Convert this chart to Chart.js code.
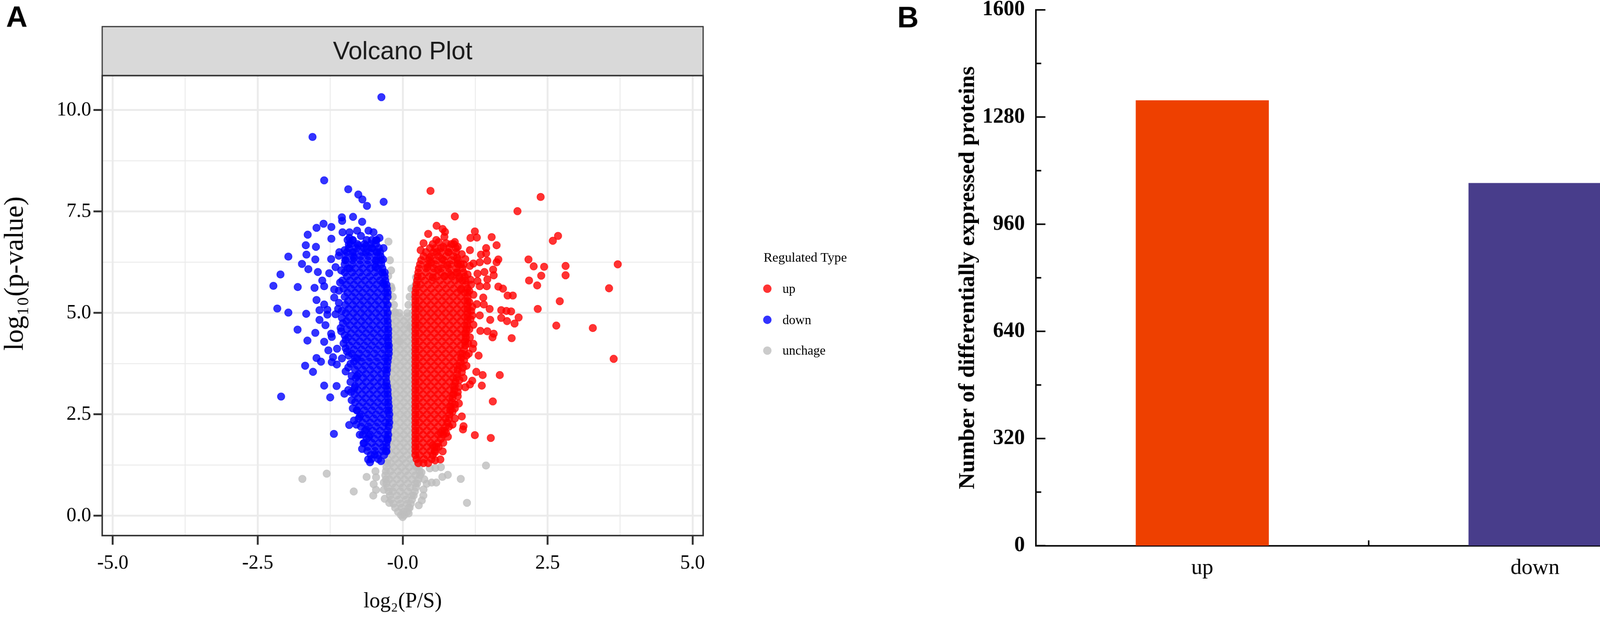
<!DOCTYPE html>
<html>
<head>
<meta charset="utf-8">
<script src="https://cdn.jsdelivr.net/npm/chart.js@4.4.1/dist/chart.umd.min.js"></script>
<style>
  html, body { margin: 0; padding: 0; background: #fff; overflow: hidden; }
  #page { position: absolute; left: 0; top: 0; width: 4212px; height: 1618px; overflow: hidden; transform-origin: 0 0; font-family: "Liberation Serif", serif; }
  #volcano { position: absolute; left: 0; top: 0; }
  #bars { position: absolute; left: 2340px; top: -40px; }
  .lg { position: absolute; color: #000; white-space: nowrap; height: 40px; line-height: 40px; }
  .lg-title { left: 2010px; top: 658px; font-size: 35px; }
  .lg-text { left: 2060px; font-size: 34px; }
  .lg-dot { position: absolute; left: 2009px; width: 22px; height: 22px; border-radius: 50%; }
</style>
</head>
<body>
<div id="page">
<canvas id="volcano" width="1900" height="1618"></canvas>
<canvas id="bars" width="2160" height="1658"></canvas>

<div class="lg lg-title">Regulated Type</div>
<div class="lg-dot" style="top:749px;background:rgba(255,0,0,0.8)"></div>
<div class="lg lg-text" style="top:740px">up</div>
<div class="lg-dot" style="top:831px;background:rgba(0,0,255,0.8)"></div>
<div class="lg lg-text" style="top:822px">down</div>
<div class="lg-dot" style="top:912px;background:rgba(190,190,190,0.8)"></div>
<div class="lg lg-text" style="top:903px">unchage</div>
</div>

<script>
// ---- panel A: volcano plot ----
const xGridValues = [-5, -3.75, -2.5, -1.25, 0, 1.25, 2.5, 3.75, 5];
const xMajorValues = [-5, -2.5, 0, 2.5, 5];
const xTickLabels = ["-5.0", "-2.5", "-0.0", "2.5", "5.0"];
const yGridValues = [0, 1.25, 2.5, 3.75, 5, 6.25, 7.5, 8.75, 10];
const yMajorValues = [0, 2.5, 5, 7.5, 10];
const yTickLabels = ["0.0", "2.5", "5.0", "7.5", "10.0"];

// scattered up-regulated points [log2 FC, -log10 p]
const upPoints = [
	[0.48,8.01],[2.38,7.86],[1.98,7.51],[0.90,7.38],[0.585,7.15],[0.69,7.07],[0.73,7.00],[0.72,6.88],
	[1.245,7.01],[1.17,6.85],[1.28,6.86],[1.535,6.87],[1.62,6.67],[2.68,6.90],[2.59,6.78],[0.90,6.75],
	[0.95,6.63],[1.16,6.55],[1.44,6.60],[1.44,6.47],[1.35,6.44],[1.65,6.32],[1.62,6.25],[1.08,6.33],
	[0.94,6.36],[0.95,6.22],[1.22,6.22],[1.16,6.16],[1.33,6.25],[1.46,6.29],[2.17,6.32],[2.26,6.15],
	[2.44,6.14],[2.81,6.16],[3.71,6.20],[2.81,5.93],[2.39,5.92],[2.18,5.80],[2.32,5.68],[1.56,6.07],
	[1.41,6.01],[1.29,5.97],[1.57,5.93],[1.17,5.82],[1.29,5.79],[1.46,5.83],[0.94,6.00],[0.98,5.85],
	[0.77,6.18],[0.68,6.33],[0.59,6.50],[0.70,6.63],[0.79,6.50],[0.46,6.36],[0.49,6.24],[0.43,6.13],
	[0.61,6.07],[0.52,5.88],[0.72,5.91],[0.83,5.94],[3.56,5.61],
	[2.71,5.29],[2.33,5.10],[2.65,4.69],[3.28,4.63],[3.64,3.87],[1.88,4.38],[1.39,5.38],[1.15,5.27],
	[1.28,5.22],[1.40,5.21],[1.50,5.10],[1.70,5.07],[1.79,5.05],[1.87,5.04],[1.81,5.43],[1.90,5.43],
	[1.73,5.60],[1.65,5.65],[1.33,5.66],[1.45,5.66],[1.15,5.54],[1.00,5.57],[2.00,4.89],[1.93,4.74],
	[1.80,4.80],[1.70,4.88],[1.51,4.83],[1.33,4.94],[1.20,4.94],[1.46,4.55],[1.57,4.49],[1.55,4.40],
	[1.34,4.56],[1.22,4.71],[1.22,4.24],[1.21,4.12],[1.31,3.95],[1.06,3.84],[1.02,3.54],[1.27,3.55],
	[1.38,3.47],[1.675,3.47],[1.20,3.33],[1.365,3.21],[1.16,3.24],[0.97,3.18],[1.08,3.17],[1.555,2.82],
	[0.97,2.77],[0.90,2.65],[0.86,2.57],[1.02,2.45],[1.05,2.21],[1.245,1.99],[1.52,1.92],[0.75,2.04],
	[0.655,2.04],[0.52,1.74],[0.56,1.57],[0.69,1.59],[0.65,1.39],[0.56,1.37],[1.04,2.13],
	[1.18,5.05],[1.16,4.40],[1.14,4.00],[1.10,3.70],[1.05,3.40],[0.95,2.95],[0.90,2.40],[0.80,2.20],
	[0.36,6.72],[0.58,6.80],[0.84,6.70],[0.31,6.55],[1.02,6.45],
	[0.44,6.95],[0.52,6.70],[0.62,6.75],[0.75,6.72],[0.88,6.70],[1.05,6.20],[1.12,5.95],[1.18,5.70],
	[1.22,5.45],[1.20,5.15],[1.17,4.85],[1.15,4.60],[1.13,4.25],[1.10,3.95],[1.04,3.65],[0.98,3.35],
	[0.95,3.05],[0.90,2.75],[0.86,2.25],[0.78,1.95],[0.70,1.80],[0.62,1.70]
];
// dense up-regulated cloud, one row per level: [y, [x...]]
const upCoreRows = [
	[6.6, [0.47,0.56,0.66,0.80,0.92]],
	[6.5, [0.40,0.53,0.66,0.79,0.92]],
	[6.4, [0.36,0.49,0.62,0.75,0.88]],
	[6.3, [0.32,0.45,0.58,0.71,0.84,0.95]],
	[6.2, [0.30,0.43,0.56,0.69,0.82,0.95,1.00]],
	[6.1, [0.28,0.41,0.54,0.67,0.80,0.93,1.03]],
	[6.0, [0.27,0.40,0.53,0.66,0.79,0.92,1.05]],
	[5.9, [0.26,0.33,0.46,0.59,0.72,0.85,0.98,1.07]],
	[5.8, [0.25,0.38,0.51,0.64,0.77,0.90,1.03,1.08]],
	[5.7, [0.24,0.31,0.44,0.57,0.70,0.83,0.96,1.09]],
	[5.6, [0.23,0.36,0.49,0.62,0.75,0.88,1.01,1.12]],
	[5.5, [0.22,0.29,0.42,0.55,0.68,0.81,0.94,1.07,1.12]],
	[5.4, [0.22,0.35,0.48,0.61,0.74,0.87,1.00,1.12]],
	[5.3, [0.22,0.29,0.42,0.55,0.68,0.81,0.94,1.07,1.12]],
	[5.2, [0.22,0.35,0.48,0.61,0.74,0.87,1.00,1.12]],
	[5.1, [0.22,0.29,0.42,0.55,0.68,0.81,0.94,1.07,1.12]],
	[5.0, [0.22,0.35,0.48,0.61,0.74,0.87,1.00,1.12]],
	[4.9, [0.22,0.29,0.42,0.55,0.68,0.81,0.94,1.07,1.12]],
	[4.8, [0.22,0.35,0.48,0.61,0.74,0.87,1.00,1.12]],
	[4.7, [0.22,0.29,0.42,0.55,0.68,0.81,0.94,1.07,1.11]],
	[4.6, [0.22,0.35,0.48,0.61,0.74,0.87,1.00,1.10]],
	[4.5, [0.22,0.29,0.42,0.55,0.68,0.81,0.94,1.07,1.09]],
	[4.4, [0.22,0.35,0.48,0.61,0.74,0.87,1.00,1.09]],
	[4.3, [0.22,0.29,0.42,0.55,0.68,0.81,0.94,1.07,1.08]],
	[4.2, [0.22,0.35,0.48,0.61,0.74,0.87,1.00,1.08]],
	[4.1, [0.22,0.29,0.42,0.55,0.68,0.81,0.94,1.06]],
	[4.0, [0.22,0.35,0.48,0.61,0.74,0.87,1.00,1.03]],
	[3.9, [0.22,0.29,0.42,0.55,0.68,0.81,0.94,1.01]],
	[3.8, [0.22,0.35,0.48,0.61,0.74,0.87,1.00]],
	[3.7, [0.22,0.29,0.42,0.55,0.68,0.81,0.94,0.98]],
	[3.6, [0.22,0.35,0.48,0.61,0.74,0.87,0.95]],
	[3.5, [0.22,0.29,0.42,0.55,0.68,0.81,0.94]],
	[3.4, [0.22,0.35,0.48,0.61,0.74,0.87,0.93]],
	[3.3, [0.22,0.29,0.42,0.55,0.68,0.81,0.91]],
	[3.2, [0.22,0.35,0.48,0.61,0.74,0.87,0.90]],
	[3.1, [0.22,0.29,0.42,0.55,0.68,0.81,0.89]],
	[3.0, [0.22,0.35,0.48,0.61,0.74,0.87,0.88]],
	[2.9, [0.22,0.29,0.42,0.55,0.68,0.81,0.86]],
	[2.8, [0.22,0.35,0.48,0.61,0.74,0.85]],
	[2.7, [0.22,0.29,0.42,0.55,0.68,0.81,0.83]],
	[2.6, [0.22,0.35,0.48,0.61,0.74,0.82]],
	[2.5, [0.22,0.29,0.42,0.55,0.68,0.81]],
	[2.4, [0.22,0.35,0.48,0.61,0.74,0.80]],
	[2.3, [0.22,0.29,0.42,0.55,0.68,0.77]],
	[2.2, [0.22,0.35,0.48,0.61,0.74]],
	[2.1, [0.22,0.29,0.42,0.55,0.68,0.72]],
	[2.0, [0.22,0.35,0.48,0.61,0.70]],
	[1.9, [0.22,0.29,0.42,0.55,0.66]],
	[1.8, [0.22,0.35,0.48,0.61]],
	[1.7, [0.22,0.29,0.42,0.55,0.58]],
	[1.6, [0.22,0.35,0.48,0.55]],
	[1.5, [0.22,0.29,0.42,0.52]],
	[1.4, [0.24,0.37,0.50]],
	[1.3, [0.27,0.36,0.44]]
];

// scattered down-regulated points
const downPoints = [
	[-0.367,10.32],[-1.555,9.34],[-1.354,8.27],[-0.939,8.05],[-0.765,7.92],[-0.695,7.80],[-0.616,7.64],[-0.328,7.74],
	[-1.049,7.36],[-1.044,7.27],[-0.856,7.37],[-0.699,7.25],[-1.365,7.20],[-1.486,7.10],[-1.23,7.12],[-1.638,6.93],
	[-1.23,6.83],[-1.037,6.99],[-0.917,6.99],[-0.786,7.03],[-0.59,7.03],[-0.503,6.99],[-1.671,6.67],[-1.496,6.63],
	[-1.972,6.39],[-1.66,6.44],[-1.737,6.21],[-1.627,6.08],[-1.507,6.32],[-1.234,6.33],[-2.108,5.95],[-2.23,5.67],
	[-1.463,6.01],[-1.267,5.98],[-1.158,6.13],[-1.092,6.50],[-1.103,6.41],[-0.987,6.30],[-0.929,6.69],[-0.863,6.79],
	[-0.863,6.50],[-0.841,6.36],[-0.765,6.66],[-0.634,6.66],[-0.634,6.49],[-0.524,6.60],[-0.459,6.79],[-0.437,6.50],
	[-0.339,6.32],[-0.459,6.29],[-0.47,6.13],[-0.349,5.99],[-0.339,5.74],[-0.917,6.10],[-1.387,5.80],[-1.52,5.62],
	[-1.81,5.64],
	[-2.163,5.11],[-1.972,5.01],[-1.664,4.98],[-1.813,4.59],[-1.507,4.51],[-1.643,4.32],[-1.354,4.29],[-1.282,4.08],
	[-1.132,4.12],[-1.486,3.89],[-1.409,3.80],[-1.682,3.70],[-1.547,3.55],[-1.201,3.91],[-1.223,3.79],[-1.136,3.73],
	[-1.048,3.88],[-0.939,3.66],[-0.983,3.56],[-1.354,3.21],[-1.14,3.20],[-2.097,2.94],[-1.25,2.92],[-1.005,3.01],
	[-0.939,3.10],[-0.83,3.15],[-0.922,2.24],[-1.186,2.02],[-0.786,3.88],[-0.786,3.45],[-0.983,4.34],[-0.983,4.13],
	[-1.07,4.63],[-1.234,4.49],[-1.223,4.41],[-1.435,4.83],[-1.332,4.70],[-1.435,5.07],[-1.299,5.08],[-1.299,4.96],
	[-1.486,5.32],[-1.354,5.21],[-1.354,5.66],[-1.18,5.58],[-1.18,5.38],[-1.114,5.10],[-1.158,4.97],[-1.048,4.88],
	[-0.79,2.60],[-0.74,2.45],[-0.63,2.13],[-0.675,1.79],[-0.596,1.39],[-0.564,1.32],[-0.485,1.51],[-0.279,1.59],
	[-0.374,1.35],[-0.581,1.95],[-0.262,1.88],
	[-1.08,5.75],[-1.10,5.25],[-1.06,4.55],[-1.02,4.25],[-0.93,3.95],[-0.90,3.30],[-0.88,2.85],[-0.84,2.35],
	[-1.06,6.05],[-1.10,5.55],[-1.05,5.05],[-1.03,4.75],[-1.00,4.45],[-0.96,4.05],[-0.90,3.75],[-0.88,3.45],
	[-0.89,3.05],[-0.86,2.65],[-0.80,2.25],[-0.74,2.00],[-0.70,1.65],[-1.00,6.55],[-0.92,6.85],[-0.72,6.90],
	[-0.40,6.85],[-0.33,6.60]
];
const downCoreRows = [
	[6.8, [-0.95,-0.86,-0.62,-0.53,-0.45]],
	[6.7, [-0.90,-0.78,-0.66,-0.55,-0.46]],
	[6.6, [-0.93,-0.80,-0.67,-0.54,-0.41]],
	[6.5, [-0.96,-0.83,-0.70,-0.57,-0.45,-0.39]],
	[6.4, [-0.98,-0.85,-0.72,-0.59,-0.46,-0.38]],
	[6.3, [-0.99,-0.86,-0.73,-0.60,-0.47,-0.37]],
	[6.2, [-1.00,-0.87,-0.74,-0.61,-0.48,-0.37]],
	[6.1, [-0.95,-0.82,-0.69,-0.56,-0.43,-0.35]],
	[6.0, [-1.00,-0.87,-0.74,-0.61,-0.48,-0.35,-0.31]],
	[5.9, [-0.96,-0.83,-0.70,-0.57,-0.44,-0.31]],
	[5.8, [-1.04,-0.91,-0.78,-0.65,-0.52,-0.39,-0.30]],
	[5.7, [-0.97,-0.84,-0.71,-0.58,-0.45,-0.32,-0.28]],
	[5.6, [-1.02,-0.89,-0.76,-0.63,-0.50,-0.37,-0.27]],
	[5.5, [-0.95,-0.82,-0.69,-0.56,-0.43,-0.30,-0.26]],
	[5.4, [-1.00,-0.87,-0.74,-0.61,-0.48,-0.35,-0.26]],
	[5.3, [-0.94,-0.81,-0.68,-0.55,-0.42,-0.29]],
	[5.2, [-0.99,-0.86,-0.73,-0.60,-0.47,-0.34,-0.26]],
	[5.1, [-0.93,-0.80,-0.67,-0.54,-0.41,-0.28]],
	[5.0, [-0.98,-0.85,-0.72,-0.59,-0.46,-0.33,-0.26]],
	[4.9, [-0.92,-0.79,-0.66,-0.53,-0.40,-0.27]],
	[4.8, [-0.97,-0.84,-0.71,-0.58,-0.45,-0.32,-0.26]],
	[4.7, [-0.91,-0.78,-0.65,-0.52,-0.39,-0.26]],
	[4.6, [-0.96,-0.83,-0.70,-0.57,-0.44,-0.31,-0.25]],
	[4.5, [-0.89,-0.76,-0.63,-0.50,-0.37,-0.25]],
	[4.4, [-0.94,-0.81,-0.68,-0.55,-0.42,-0.29,-0.25]],
	[4.3, [-0.87,-0.74,-0.61,-0.48,-0.35,-0.25]],
	[4.2, [-0.92,-0.79,-0.66,-0.53,-0.40,-0.27,-0.24]],
	[4.1, [-0.84,-0.71,-0.58,-0.45,-0.32,-0.24]],
	[4.0, [-0.88,-0.75,-0.62,-0.49,-0.36,-0.24]],
	[3.9, [-0.82,-0.69,-0.56,-0.43,-0.30,-0.25]],
	[3.8, [-0.84,-0.71,-0.58,-0.45,-0.32,-0.26]],
	[3.7, [-0.78,-0.65,-0.52,-0.39,-0.27]],
	[3.6, [-0.82,-0.69,-0.56,-0.43,-0.30,-0.27]],
	[3.5, [-0.76,-0.63,-0.50,-0.37,-0.28]],
	[3.4, [-0.81,-0.68,-0.55,-0.42,-0.29]],
	[3.3, [-0.76,-0.63,-0.50,-0.37,-0.28]],
	[3.2, [-0.82,-0.69,-0.56,-0.43,-0.30,-0.27]],
	[3.1, [-0.77,-0.64,-0.51,-0.38,-0.26]],
	[3.0, [-0.83,-0.70,-0.57,-0.44,-0.31,-0.26]],
	[2.9, [-0.77,-0.64,-0.51,-0.38,-0.25]],
	[2.8, [-0.82,-0.69,-0.56,-0.43,-0.30,-0.25]],
	[2.7, [-0.75,-0.62,-0.49,-0.36,-0.24]],
	[2.6, [-0.79,-0.66,-0.53,-0.40,-0.27,-0.24]],
	[2.5, [-0.72,-0.59,-0.46,-0.33,-0.23]],
	[2.4, [-0.76,-0.63,-0.50,-0.37,-0.24]],
	[2.3, [-0.69,-0.56,-0.43,-0.30,-0.23]],
	[2.2, [-0.72,-0.59,-0.46,-0.33,-0.24]],
	[2.1, [-0.65,-0.52,-0.39,-0.26]],
	[2.0, [-0.69,-0.56,-0.43,-0.30,-0.25]],
	[1.9, [-0.62,-0.49,-0.36,-0.26]],
	[1.8, [-0.66,-0.53,-0.40,-0.28]],
	[1.7, [-0.60,-0.47,-0.34,-0.28]],
	[1.6, [-0.61,-0.48,-0.35,-0.29]],
	[1.5, [-0.55,-0.43,-0.32]],
	[1.4, [-0.54,-0.42]]
];

// scattered unchanged points
const unchangedPoints = [
	[-0.245,6.76],[-0.22,6.30],[-0.20,6.05],[-0.25,5.91],[-0.20,5.65],[0.23,5.88],[0.22,5.69],[0.24,5.75],
	[-0.284,5.32],[-0.13,5.02],[-0.066,4.31],[0.25,5.13],[0.13,4.66],[0.25,4.73],
	[-1.73,0.91],[-1.31,1.04],[-0.844,0.60],[-0.622,0.96],[-0.507,0.50],[-0.469,1.10],[-0.459,0.95],[-0.50,0.78],
	[-0.459,0.64],[-0.326,0.82],[-0.326,0.64],[-0.31,0.42],[-0.231,0.32],[1.437,1.24],[1.002,0.91],[1.109,0.32],
	[0.779,1.01],[0.684,0.96],[0.659,1.20],[0.564,1.18],[0.468,1.17],[0.579,0.82],[0.50,0.82],[0.414,0.79],
	[0.373,0.90],[0.325,1.07],[0.357,0.50],[0.278,0.26],[0.103,0.06],[0.36,0.65],[0.33,0.38]
];
const unchangedCoreRows = [
	[5.6, [-0.25,-0.19,0.15,0.21]],
	[5.4, [-0.25,-0.17,0.12,0.20]],
	[5.2, [-0.24,-0.15,0.10,0.19]],
	[5.0, [-0.24,-0.15,-0.06,0.08,0.17]],
	[4.9, [-0.18,-0.05,0.08,0.21]],
	[4.8, [-0.24,-0.11,0.02,0.15,0.21]],
	[4.7, [-0.18,-0.05,0.08,0.21]],
	[4.6, [-0.24,-0.11,0.02,0.15,0.21]],
	[4.5, [-0.18,-0.05,0.08,0.21]],
	[4.4, [-0.24,-0.11,0.02,0.15,0.21]],
	[4.3, [-0.18,-0.05,0.08,0.21]],
	[4.2, [-0.24,-0.11,0.02,0.15,0.21]],
	[4.1, [-0.18,-0.05,0.08,0.21]],
	[4.0, [-0.24,-0.11,0.02,0.15,0.21]],
	[3.9, [-0.18,-0.05,0.08,0.21]],
	[3.8, [-0.24,-0.11,0.02,0.15,0.21]],
	[3.7, [-0.18,-0.05,0.08,0.21]],
	[3.6, [-0.24,-0.11,0.02,0.15,0.21]],
	[3.5, [-0.18,-0.05,0.08,0.21]],
	[3.4, [-0.24,-0.11,0.02,0.15,0.21]],
	[3.3, [-0.18,-0.05,0.08,0.21]],
	[3.2, [-0.24,-0.11,0.02,0.15,0.21]],
	[3.1, [-0.18,-0.05,0.08,0.21]],
	[3.0, [-0.24,-0.11,0.02,0.15,0.21]],
	[2.9, [-0.18,-0.05,0.08,0.21]],
	[2.8, [-0.24,-0.11,0.02,0.15,0.21]],
	[2.7, [-0.18,-0.05,0.08,0.21]],
	[2.6, [-0.24,-0.11,0.02,0.15,0.21]],
	[2.5, [-0.18,-0.05,0.08,0.21]],
	[2.4, [-0.24,-0.11,0.02,0.15,0.21]],
	[2.3, [-0.18,-0.05,0.08,0.21]],
	[2.2, [-0.24,-0.11,0.02,0.15,0.21]],
	[2.1, [-0.18,-0.05,0.08,0.21]],
	[2.0, [-0.24,-0.11,0.02,0.15,0.21]],
	[1.9, [-0.18,-0.05,0.08,0.21]],
	[1.8, [-0.24,-0.11,0.02,0.15,0.21]],
	[1.7, [-0.18,-0.05,0.08,0.21]],
	[1.6, [-0.24,-0.11,0.02,0.15,0.21]],
	[1.5, [-0.18,-0.05,0.08,0.21]],
	[1.4, [-0.26,-0.13,0.00,0.13,0.26]],
	[1.3, [-0.27,-0.20,-0.07,0.06,0.19,0.27]],
	[1.2, [-0.28,-0.15,-0.02,0.11,0.24,0.28]],
	[1.1, [-0.29,-0.21,-0.08,0.05,0.18,0.29]],
	[1.0, [-0.30,-0.17,-0.04,0.09,0.22,0.30]],
	[0.9, [-0.29,-0.23,-0.10,0.03,0.16,0.27]],
	[0.8, [-0.28,-0.17,-0.04,0.09,0.22,0.25]],
	[0.7, [-0.26,-0.13,0.00,0.13,0.23]],
	[0.6, [-0.24,-0.17,-0.04,0.09,0.21]],
	[0.5, [-0.22,-0.10,0.03,0.16,0.19]],
	[0.4, [-0.20,-0.07,0.06,0.16]],
	[0.3, [-0.16,-0.04,0.08,0.14]],
	[0.2, [-0.13,-0.02,0.10,0.12]],
	[0.1, [-0.08,0.02,0.08]],
	[0.02, [-0.03,0.03]],
	[-0.03, [0.0]]
];

// ---- panel B: counts of differentially expressed proteins ----
const barCategories = ["up", "down"];
const barCounts = [1330, 1083];
const barColors = ["#EE4000", "#483D8B"];
const yTicksB = [0, 320, 640, 960, 1280, 1600];
const yTickLabelsB = ["0", "320", "640", "960", "1280", "1600"];
const yMinorTicksB = [160, 480, 800, 1120, 1440];

function toXY(points, rows) {
	const out = points.map(p => ({x: p[0], y: p[1]}));
	rows.forEach(r => r[1].forEach(x => out.push({x: x, y: r[0]})));
	return out;
}

function labelFor(value, majors, labels) {
	const i = majors.findIndex(m => Math.abs(m - value) < 1e-9);
	return i >= 0 ? labels[i] : "";
}

const isMajor = (value, majors) => majors.some(m => Math.abs(m - value) < 1e-9);
const serif = "Liberation Serif";

const panelFrame = {
	id: "panelFrame",
	beforeDraw(chart) {
		const {ctx, chartArea: a} = chart;
		const stripTop = 70;
		ctx.save();
		ctx.fillStyle = "#D9D9D9";
		ctx.fillRect(a.left, stripTop, a.right - a.left, a.top - stripTop);
		ctx.strokeStyle = "#333333";
		ctx.lineWidth = 3;
		ctx.strokeRect(a.left, stripTop, a.right - a.left, a.top - stripTop);
		ctx.fillStyle = "#1A1A1A";
		ctx.font = '66px "Liberation Sans"';
		ctx.textAlign = "center";
		ctx.textBaseline = "middle";
		ctx.fillText("Volcano Plot", (a.left + a.right) / 2, (stripTop + a.top) / 2 + 3);
		ctx.fillStyle = "#000";
		ctx.font = 'bold 78px "Liberation Sans"';
		ctx.textAlign = "left";
		ctx.textBaseline = "alphabetic";
		ctx.fillText("A", 16, 71);
		// y axis title, centred where the original sits
		ctx.translate(60, 720);
		ctx.rotate(-Math.PI / 2);
		ctx.textAlign = "center";
		ctx.font = '72px "' + serif + '"';
		ctx.fillText("log\u2081\u2080(p-value)", 0, 0);
		ctx.restore();
	},
	afterDatasetsDraw(chart) {
		const {ctx, chartArea: a} = chart;
		ctx.save();
		ctx.strokeStyle = "#333333";
		ctx.lineWidth = 4;
		ctx.strokeRect(a.left, a.top, a.right - a.left, a.bottom - a.top);
		ctx.restore();
	}
};

const pointStyle = (fill) => ({
	pointRadius: 9.8,
	pointBorderWidth: 1.5,
	pointBackgroundColor: fill,
	pointBorderColor: fill,
	pointHoverRadius: 9.8
});

new Chart(document.getElementById("volcano"), {
	type: "scatter",
	data: {
		datasets: [
			Object.assign({label: "up", data: toXY(upPoints, upCoreRows)}, pointStyle("rgba(255,0,0,0.8)")),
			Object.assign({label: "down", data: toXY(downPoints, downCoreRows)}, pointStyle("rgba(0,0,255,0.8)")),
			Object.assign({label: "unchage", data: toXY(unchangedPoints, unchangedCoreRows)}, pointStyle("rgba(190,190,190,0.8)"))
		]
	},
	options: {
		responsive: false,
		animation: false,
		layout: {padding: {top: 199, right: 49, left: 0, bottom: 0}},
		plugins: {legend: {display: false}, tooltip: {enabled: false}},
		scales: {
			x: {
				type: "linear",
				min: -5.183,
				max: 5.183,
				afterBuildTicks: (s) => { s.ticks = xGridValues.map(v => ({value: v})); },
				afterFit: (s) => { s.height = 208; },
				ticks: {
					autoSkip: false,
					maxRotation: 0,
					padding: 18,
					color: "#000",
					font: {family: serif, size: 52},
					callback: (v) => labelFor(v, xMajorValues, xTickLabels)
				},
				grid: {
					color: "#EBEBEB",
					lineWidth: (c) => isMajor(c.tick.value, xMajorValues) ? 5 : 2.5,
					tickLength: 24,
					tickWidth: 5,
					tickColor: (c) => isMajor(c.tick.value, xMajorValues) ? "#333333" : "rgba(0,0,0,0)"
				},
				border: {display: false},
				title: {
					display: true,
					text: "log\u2082(P/S)",
					color: "#000",
					font: {family: serif, size: 56, lineHeight: 1},
					padding: {top: 0, bottom: 6}
				}
			},
			y: {
				type: "linear",
				min: -0.487,
				max: 10.852,
				afterBuildTicks: (s) => { s.ticks = yGridValues.map(v => ({value: v})); },
				afterFit: (s) => { s.width = 269; },
				ticks: {
					autoSkip: false,
					padding: 6,
					color: "#000",
					font: {family: serif, size: 52},
					callback: (v) => labelFor(v, yMajorValues, yTickLabels)
				},
				grid: {
					color: "#EBEBEB",
					lineWidth: (c) => isMajor(c.tick.value, yMajorValues) ? 5 : 2.5,
					tickLength: 23,
					tickWidth: 5,
					tickColor: (c) => isMajor(c.tick.value, yMajorValues) ? "#333333" : "rgba(0,0,0,0)"
				},
				border: {display: false}
			}
		}
	},
	plugins: [panelFrame]
});

const innerTicks = {
	id: "innerTicks",
	afterDraw(chart) {
		const {ctx, chartArea: a, scales: {x, y}} = chart;
		ctx.save();
		ctx.strokeStyle = "#000";
		ctx.lineWidth = 4;
		ctx.beginPath();
		yTicksB.forEach(v => {
			const p = y.getPixelForValue(v);
			ctx.moveTo(a.left, p);
			ctx.lineTo(a.left + 25, p);
		});
		yMinorTicksB.forEach(v => {
			const p = y.getPixelForValue(v);
			ctx.moveTo(a.left, p);
			ctx.lineTo(a.left + 14, p);
		});
		for (let i = 1; i < barCategories.length; i++) {
			const p = (x.getPixelForValue(i - 1) + x.getPixelForValue(i)) / 2;
			ctx.moveTo(p, a.bottom);
			ctx.lineTo(p, a.bottom - 14);
		}
		ctx.stroke();
		ctx.fillStyle = "#000";
		ctx.font = 'bold 78px "Liberation Sans"';
		ctx.textBaseline = "alphabetic";
		ctx.fillText("B", 22, 112);
		ctx.restore();
	}
};

new Chart(document.getElementById("bars"), {
	type: "bar",
	data: {
		labels: barCategories,
		datasets: [{
			data: barCounts,
			backgroundColor: barColors,
			barPercentage: 0.4,
			categoryPercentage: 1
		}]
	},
	options: {
		responsive: false,
		animation: false,
		layout: {padding: {top: 66, right: 21, left: 0, bottom: 0}},
		plugins: {legend: {display: false}, tooltip: {enabled: false}},
		scales: {
			x: {
				afterFit: (s) => { s.height = 181.4; },
				grid: {display: false, drawTicks: false, tickLength: 0},
				border: {display: true, color: "#000", width: 4},
				ticks: {color: "#000", padding: 24.6, font: {family: serif, size: 58}}
			},
			y: {
				min: 0,
				max: 1600,
				afterBuildTicks: (s) => { s.ticks = yTicksB.map(v => ({value: v})); },
				afterFit: (s) => { s.width = 387; },
				grid: {display: false, drawTicks: false, tickLength: 0},
				border: {display: true, color: "#000", width: 4},
				ticks: {
					padding: 29,
					color: "#000",
					font: {family: serif, size: 56, weight: "bold"},
					callback: (v) => labelFor(v, yTicksB, yTickLabelsB)
				},
				title: {
					display: true,
					text: "Number of differentially expressed proteins",
					color: "#000",
					font: {family: serif, size: 60, weight: "bold", lineHeight: 1},
					padding: {top: 178, bottom: 0}
				}
			}
		}
	},
	plugins: [innerTicks]
});

// the viewport can be narrower than the 4212px layout; scale it down uniformly
const page = document.getElementById("page");
const s = window.innerWidth / 4212;
page.style.transform = "scale(" + s + ")";
</script>
</body>
</html>
